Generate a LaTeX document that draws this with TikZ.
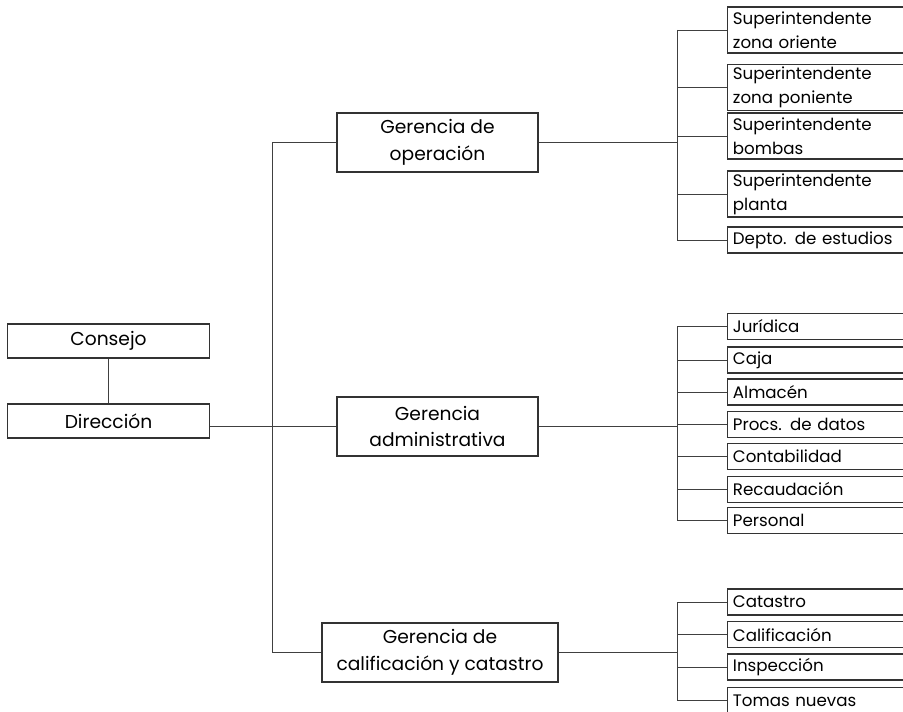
\documentclass[tikz,border=0pt]{standalone}
\usepackage{fontspec}
\setmainfont{Poppins}
\usetikzlibrary{positioning}

\begin{document}
\begin{tikzpicture}[x=0.75pt,y=-0.75pt,
    line/.style={draw=black!75,line width=0.7pt},
    box/.style={draw=black!80,line width=0.9pt,align=center,inner sep=0pt,
        minimum width=150.75pt,minimum height=44.25pt,font=\fontsize{14}{20}\selectfont},
    top box/.style={box,minimum width=151.5pt,minimum height=25.5pt},
    sub/.style={draw=black!80,line width=0.9pt,anchor=west,align=left,text width=190pt,
        inner xsep=4pt,inner ysep=0pt,minimum height=19.5pt,font=\fontsize{12.5}{18}\selectfont},
    sub2/.style={sub,minimum height=34.5pt}]
\useasboundingbox (0,0) rectangle (903,712);

\node[top box] (consejo)   at (108.5,341) {Consejo};
\node[top box] (direccion) at (108.5,421) {Dirección};

\node[box] (gop)  at (437.5,142.5) {Gerencia de\\operación};
\node[box] (gadm) at (437.5,426.5) {Gerencia\\administrativa};
\node[box,minimum width=177pt] (gcal) at (440,652.5) {Gerencia de\\calificación y catastro};

\node[sub2] (zor)   at (727,30)    {Superintendente\\zona oriente};
\node[sub2] (zpo)   at (727,87.5)  {Superintendente\\zona poniente};
\node[sub2] (bomb)  at (727,136)   {Superintendente\\bombas};
\node[sub2] (plant) at (727,194)   {Superintendente\\planta};
\node[sub]  (est)   at (727,240)   {Depto. de estudios};

\node[sub] (jur)  at (727,326.5) {Jurídica};
\node[sub] (caja) at (727,360)   {Caja};
\node[sub] (alm)  at (727,392)   {Almacén};
\node[sub] (proc) at (727,424.5) {Procs. de datos};
\node[sub] (cont) at (727,456.5) {Contabilidad};
\node[sub] (rec)  at (727,489.5) {Recaudación};
\node[sub] (pers) at (727,520.5) {Personal};

\node[sub] (cat)  at (727,602)   {Catastro};
\node[sub] (cal)  at (727,634.5) {Calificación};
\node[sub] (insp) at (727,667)   {Inspección};
\node[sub] (tom)  at (727,700.5) {Tomas nuevas};

\coordinate (trunk) at (272,0);
\coordinate (b) at (677,0);

% tronco principal
\draw[line] (consejo) -- (direccion);
\draw[line] (gop.west) -- (gop.west -| trunk) -- (gcal.west -| trunk) -- (gcal.west);
\draw[line] (direccion.east |- gadm.west) -- (gadm.west);

% llaves de la derecha
\path[line]
(gop.east) -- (gop.east -| b)
(zor.west -| b) -- (est.west -| b)
(zor.west -| b) -- (zor.west)
(zpo.west -| b) -- (zpo.west)
(bomb.west -| b) -- (bomb.west)
(plant.west -| b) -- (plant.west)
(est.west -| b) -- (est.west)
;
\path[line]
(gadm.east) -- (gadm.east -| b)
(jur.west -| b) -- (pers.west -| b)
(jur.west -| b) -- (jur.west)
(caja.west -| b) -- (caja.west)
(alm.west -| b) -- (alm.west)
(proc.west -| b) -- (proc.west)
(cont.west -| b) -- (cont.west)
(rec.west -| b) -- (rec.west)
(pers.west -| b) -- (pers.west)
;
\path[line]
(gcal.east) -- (gcal.east -| b)
(cat.west -| b) -- (tom.west -| b)
(cat.west -| b) -- (cat.west)
(cal.west -| b) -- (cal.west)
(insp.west -| b) -- (insp.west)
(tom.west -| b) -- (tom.west)
;
\end{tikzpicture}
\end{document}
